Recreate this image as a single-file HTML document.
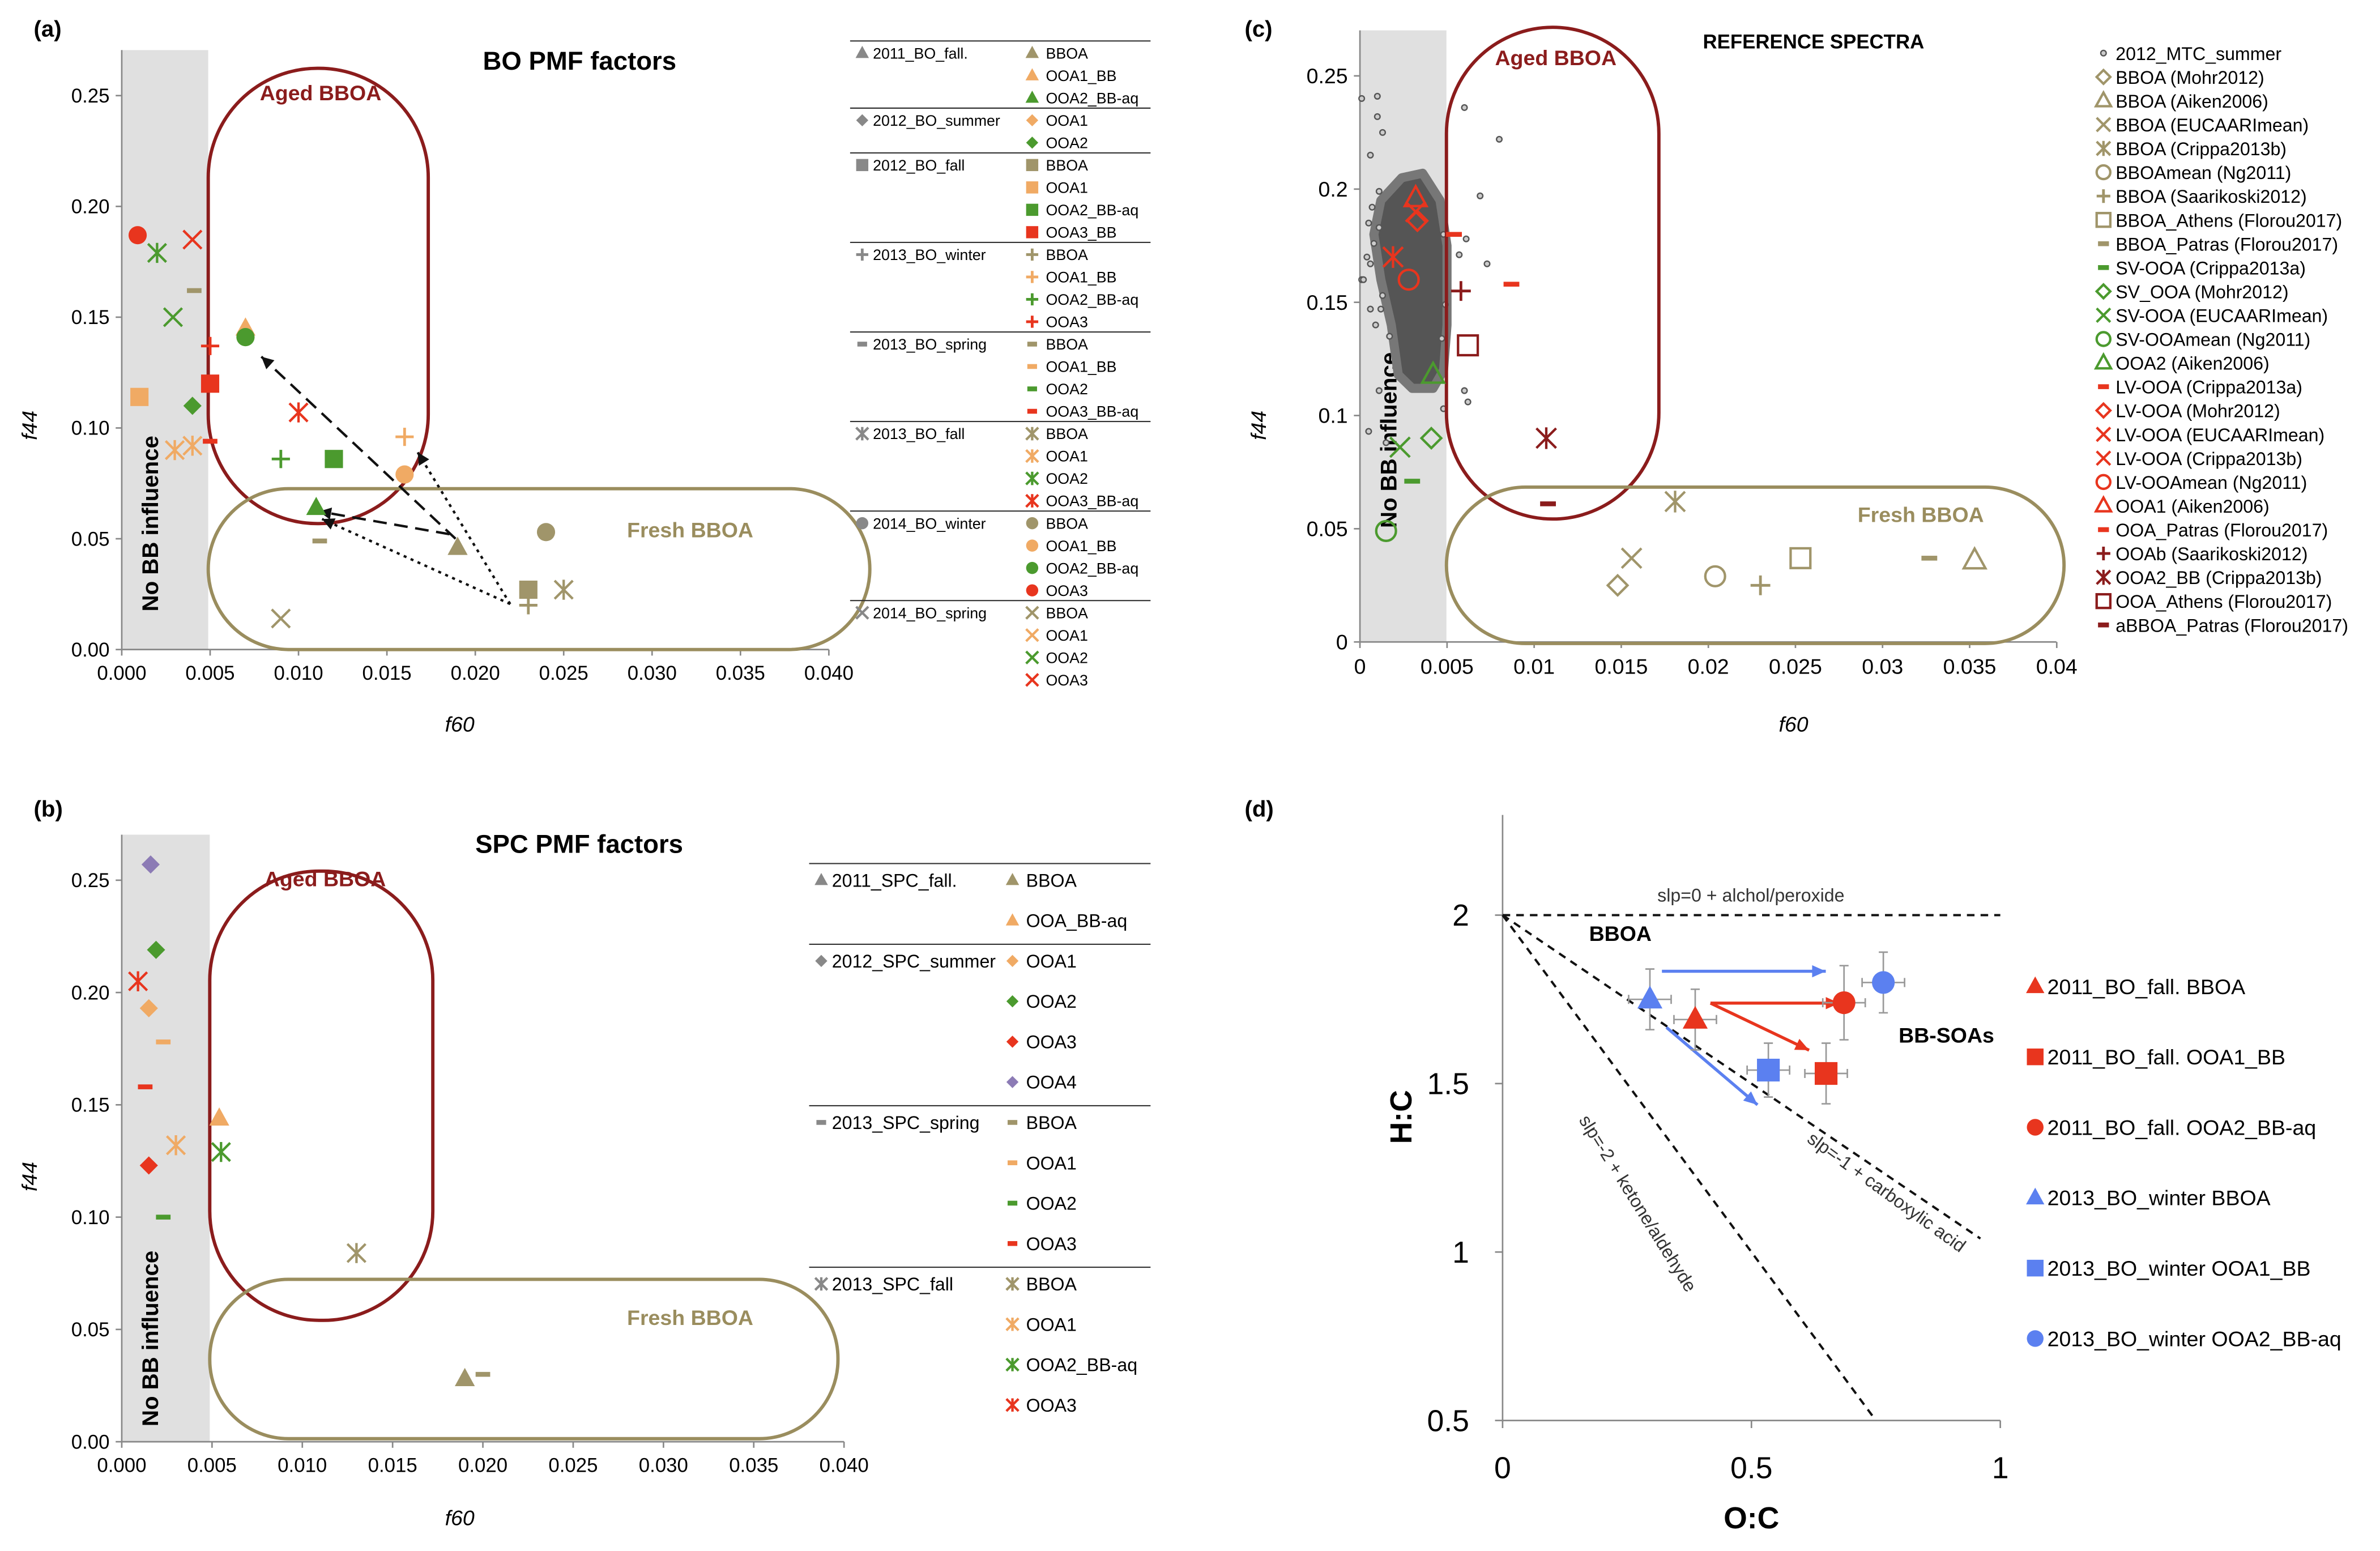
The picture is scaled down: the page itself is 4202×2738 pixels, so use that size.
<!DOCTYPE html>
<html><head><meta charset="utf-8"><style>
html,body{margin:0;padding:0;background:#fff;}
svg{display:block;font-family:"Liberation Sans",sans-serif;}
</style></head><body>
<svg id="fig" width="4202" height="2738" viewBox="0 0 1568 1022" xmlns="http://www.w3.org/2000/svg"></svg>
<script>
// ---------- DATA ----------
const OL="#a0956a",OR="#f0aa64",GR="#4b9a2e",RD="#e8351e",DR="#8b1c1c",PU="#8c7bb5",BL="#5b80f0",GY="#888";
// panel a: f60, f44, marker, color
const aX=[0.0009,0.002,0.004,0.0041,0.0029,0.001,0.004,0.005,0.005,0.007,0.007,0.003,0.004,0.005,0.010,0.009,0.012,0.016,0.016,0.011,0.0112,0.019,0.024,0.023,0.023,0.025,0.009];
const aY=[0.187,0.179,0.185,0.162,0.150,0.114,0.110,0.120,0.137,0.145,0.141,0.090,0.092,0.094,0.107,0.086,0.086,0.096,0.079,0.064,0.049,0.046,0.053,0.027,0.020,0.027,0.014];
const aM=["circ","ast","x","dash","x","sq","dia","sq","plus","tri","circ","ast","ast","dash","ast","plus","sq","plus","circ","tri","dash","tri","circ","sq","plus","ast","x"];
const aC=[RD,GR,RD,OL,GR,OR,GR,RD,RD,OR,GR,OR,OR,RD,RD,GR,GR,OR,OR,GR,OL,OL,OL,OL,OL,OL,OL];
// panel b
const bX=[0.0016,0.0019,0.0009,0.0015,0.0023,0.0013,0.0054,0.003,0.0055,0.0015,0.0023,0.013,0.019,0.020];
const bY=[0.257,0.219,0.205,0.193,0.178,0.158,0.144,0.132,0.129,0.123,0.100,0.084,0.028,0.030];
const bM=["dia","dia","ast","dia","dash","dash","tri","ast","ast","dia","dash","ast","tri","dash"];
const bC=[PU,GR,RD,OR,OR,RD,OR,OR,GR,RD,GR,OL,OL,OL];
// panel c reference spectra
const cX=[0.0032,0.0032,0.0033,0.0028,0.0019,0.0054,0.0087,0.0058,0.0062,0.0042,0.0041,0.0023,0.003,0.0015,0.0107,0.0108,0.0181,0.0156,0.0148,0.0204,0.023,0.0253,0.0327,0.0353];
const cY=[0.196,0.190,0.186,0.160,0.170,0.180,0.158,0.155,0.131,0.118,0.090,0.086,0.071,0.049,0.090,0.061,0.062,0.037,0.025,0.029,0.025,0.037,0.037,0.036];
const cM=["otri","x","odia","ocirc","ast","dash","dash","plus","osq","otri","odia","x","dash","ocirc","ast","dash","ast","x","odia","ocirc","plus","osq","dash","otri"];
const cC=[RD,RD,RD,RD,RD,RD,RD,DR,DR,GR,GR,GR,GR,GR,DR,DR,OL,OL,OL,OL,OL,OL,OL,OL];
// 2012_MTC_summer cloud outline (f60,f44) and sparse points
const cloudX=[0.0024,0.0036,0.0046,0.0050,0.0050,0.0048,0.0042,0.0030,0.0022,0.0018,0.0012,0.0008,0.0012];
const cloudY=[0.205,0.207,0.195,0.175,0.140,0.120,0.112,0.112,0.118,0.140,0.160,0.180,0.195];
const sX=[0.0001,0.001,0.001,0.0013,0.0006,0.0011,0.0007,0.0005,0.0011,0.0008,0.0004,0.0001,0.0002,0.0009,0.0017,0.0013,0.0012,0.006,0.008,0.0069,0.0073,0.0057,0.0061,0.0048,0.006,0.0062,0.0048,0.0047,0.0011,0.0006,0.0049,0.0005,0.0015,0.0006];
const sY=[0.240,0.241,0.232,0.225,0.215,0.199,0.192,0.185,0.183,0.176,0.170,0.160,0.160,0.140,0.135,0.153,0.147,0.236,0.222,0.197,0.167,0.171,0.178,0.180,0.111,0.106,0.103,0.134,0.111,0.147,0.149,0.093,0.088,0.167];
// panel d: O:C, H:C
const dX=[0.296,0.387,0.686,0.765,0.534,0.650];
const dY=[1.75,1.69,1.74,1.80,1.54,1.53];
const dM=["tri","tri","circ","circ","sq","sq"];
const dC=[BL,RD,RD,BL,BL,RD];
const dErr=[0.09,0.09,0.11,0.09,0.08,0.09];
// ticks
const abXt=["0.000","0.005","0.010","0.015","0.020","0.025","0.030","0.035","0.040"];
const abYt=["0.00","0.05","0.10","0.15","0.20","0.25"];
const cXt=["0","0.005","0.01","0.015","0.02","0.025","0.03","0.035","0.04"];
const cYt=["0","0.05","0.1","0.15","0.2","0.25"];
const dXt=["0","0.5","1"];
const dYt=["0.5","1","1.5","2"];
// legends
const legA=[["2011_BO_fall.","tri",GY,[["BBOA","tri",OL],["OOA1_BB","tri",OR],["OOA2_BB-aq","tri",GR]]],
["2012_BO_summer","dia",GY,[["OOA1","dia",OR],["OOA2","dia",GR]]],
["2012_BO_fall","sq",GY,[["BBOA","sq",OL],["OOA1","sq",OR],["OOA2_BB-aq","sq",GR],["OOA3_BB","sq",RD]]],
["2013_BO_winter","plus",GY,[["BBOA","plus",OL],["OOA1_BB","plus",OR],["OOA2_BB-aq","plus",GR],["OOA3","plus",RD]]],
["2013_BO_spring","dash",GY,[["BBOA","dash",OL],["OOA1_BB","dash",OR],["OOA2","dash",GR],["OOA3_BB-aq","dash",RD]]],
["2013_BO_fall","ast",GY,[["BBOA","ast",OL],["OOA1","ast",OR],["OOA2","ast",GR],["OOA3_BB-aq","ast",RD]]],
["2014_BO_winter","circ",GY,[["BBOA","circ",OL],["OOA1_BB","circ",OR],["OOA2_BB-aq","circ",GR],["OOA3","circ",RD]]],
["2014_BO_spring","x",GY,[["BBOA","x",OL],["OOA1","x",OR],["OOA2","x",GR],["OOA3","x",RD]]]];
const legB=[["2011_SPC_fall.","tri",GY,[["BBOA","tri",OL],["OOA_BB-aq","tri",OR]]],
["2012_SPC_summer","dia",GY,[["OOA1","dia",OR],["OOA2","dia",GR],["OOA3","dia",RD],["OOA4","dia",PU]]],
["2013_SPC_spring","dash",GY,[["BBOA","dash",OL],["OOA1","dash",OR],["OOA2","dash",GR],["OOA3","dash",RD]]],
["2013_SPC_fall","ast",GY,[["BBOA","ast",OL],["OOA1","ast",OR],["OOA2_BB-aq","ast",GR],["OOA3","ast",RD]]]];
const legC=[["2012_MTC_summer","dot",GY],["BBOA (Mohr2012)","odia",OL],["BBOA (Aiken2006)","otri",OL],["BBOA (EUCAARImean)","x",OL],["BBOA  (Crippa2013b)","ast",OL],["BBOAmean  (Ng2011)","ocirc",OL],["BBOA (Saarikoski2012)","plus",OL],["BBOA_Athens (Florou2017)","osq",OL],["BBOA_Patras (Florou2017)","dash",OL],["SV-OOA (Crippa2013a)","dash",GR],["SV_OOA (Mohr2012)","odia",GR],["SV-OOA (EUCAARImean)","x",GR],["SV-OOAmean (Ng2011)","ocirc",GR],["OOA2 (Aiken2006)","otri",GR],["LV-OOA (Crippa2013a)","dash",RD],["LV-OOA (Mohr2012)","odia",RD],["LV-OOA (EUCAARImean)","x",RD],["LV-OOA (Crippa2013b)","x",RD],["LV-OOAmean (Ng2011)","ocirc",RD],["OOA1 (Aiken2006)","otri",RD],["OOA_Patras (Florou2017)","dash",RD],["OOAb (Saarikoski2012)","plus",DR],["OOA2_BB (Crippa2013b)","ast",DR],["OOA_Athens (Florou2017)","osq",DR],["aBBOA_Patras (Florou2017)","dash",DR]];
const legD=[["2011_BO_fall.  BBOA","tri",RD],["2011_BO_fall. OOA1_BB","sq",RD],["2011_BO_fall. OOA2_BB-aq","circ",RD],["2013_BO_winter  BBOA","tri",BL],["2013_BO_winter OOA1_BB","sq",BL],["2013_BO_winter OOA2_BB-aq","circ",BL]];

// ---------- HELPERS ----------
const NS="http://www.w3.org/2000/svg",svg=document.getElementById('fig');
function E(tag,at,p){const e=document.createElementNS(NS,tag);for(const k in at)e.setAttribute(k,at[k]);(p||svg).appendChild(e);return e;}
function T(txt,x,y,at,p){const e=E('text',Object.assign({x:x,y:y,'font-size':13},at||{}),p);e.textContent=txt;return e;}
function marker(p,type,x,y,c,s){
  s=s||6;const g=E('g',{},p);
  
  
  if(type=="circ")E('circle',{cx:x,cy:y,r:s,fill:c},g);
  else if(type=="ocirc")E('circle',{cx:x,cy:y,r:s,fill:'none',stroke:c,'stroke-width':1.6},g);
  else if(type=="sq")E('rect',{x:x-s,y:y-s,width:2*s,height:2*s,fill:c},g);
  else if(type=="osq")E('rect',{x:x-s,y:y-s,width:2*s,height:2*s,fill:'none',stroke:c,'stroke-width':1.6},g);
  else if(type=="tri")E('polygon',{points:`${x},${y-s*1.2} ${x-s*1.1},${y+s*0.8} ${x+s*1.1},${y+s*0.8}`,fill:c},g);
  else if(type=="otri")E('polygon',{points:`${x},${y-s*1.2} ${x-s*1.1},${y+s*0.8} ${x+s*1.1},${y+s*0.8}`,fill:'none',stroke:c,'stroke-width':1.6},g);
  else if(type=="dia")E('polygon',{points:`${x},${y-s} ${x+s},${y} ${x},${y+s} ${x-s},${y}`,fill:c},g);
  else if(type=="odia")E('polygon',{points:`${x},${y-s} ${x+s},${y} ${x},${y+s} ${x-s},${y}`,fill:'none',stroke:c,'stroke-width':1.6},g);
  else if(type=="x")E('path',{d:`M${x-s} ${y-s}L${x+s} ${y+s}M${x-s} ${y+s}L${x+s} ${y-s}`,stroke:c,'stroke-width':1.6},g);
  else if(type=="plus")E('path',{d:`M${x-s} ${y}L${x+s} ${y}M${x} ${y-s}L${x} ${y+s}`,stroke:c,'stroke-width':1.8},g);
  else if(type=="ast")E('path',{d:`M${x-s} ${y-s}L${x+s} ${y+s}M${x-s} ${y+s}L${x+s} ${y-s}M${x} ${y-s*1.1}L${x} ${y+s*1.1}`,stroke:c,'stroke-width':1.6},g);
  else if(type=="dash")E('rect',{x:x-s*0.8,y:y-1.6,width:s*1.6,height:3.2,fill:c},g);
  else if(type=="dot")E('circle',{cx:x,cy:y,r:1.8,fill:'#ccc',stroke:'#555','stroke-width':0.9},g);
  return g;
}
function panel(name){const g=E('g',{});return g;}
function axes(g,x0,x1,y0,y1,xt,yt,xlab,ylab,xs,ys,fs){
  E('line',{x1:x0,y1:y0,x2:x0,y2:y1,stroke:'#888','stroke-width':1},g);
  E('line',{x1:x0,y1:y0,x2:x1,y2:y0,stroke:'#888','stroke-width':1},g);
  xt.forEach((t,i)=>{const x=xs(i);E('line',{x1:x,y1:y0,x2:x,y2:y0+4,stroke:'#888'},g);
    const l=T(t,x,y0+fs+7,{'text-anchor':'middle','font-size':fs},g);
    
    });
  yt.forEach((t,i)=>{const y=ys(i);E('line',{x1:x0-4,y1:y,x2:x0,y2:y,stroke:'#888'},g);
    const l=T(t,x0-8,y+fs*0.35,{'text-anchor':'end','font-size':fs},g);
    
    });
}
function band(g,x0,x1,ytop,ybot,ty){
  const r=E('rect',{x:x0,y:ytop,width:x1-x0,height:ybot-ytop,fill:'#e0e0e0'},g);
  
  
  T('No BB influence',0,0,{'font-weight':'bold','font-size':15,'text-anchor':'middle',transform:`translate(${x0+24},${ty}) rotate(-90)`},g);
}
function region(g,x,y,w,h,rx,col,label,lx,ly,name){
  const r=E('rect',{x:x,y:y,width:w,height:h,rx:rx,ry:rx,fill:'none',stroke:col,'stroke-width':2.2},g);
  
  
  T(label,lx,ly,{'font-weight':'bold','font-size':14,fill:col},g);
}
// y0 = centre of first entry; lineOff = gap from line to first entry centre
function tableLegend(g,data,x0,x1,y0,step,ix,fs,lineOff,name){
  const lg=E('g',{},g);
  
  
  let y=y0;
  data.forEach(grp=>{
    E('line',{x1:x0,y1:y-lineOff,x2:x1,y2:y-lineOff,stroke:'#333','stroke-width':0.8},lg);
    marker(lg,grp[1],x0+8,y,grp[2],4);
    T(grp[0],x0+15,y+fs*0.36,{'font-size':fs},lg);
    grp[3].forEach((e,i)=>{const yy=y+i*step;
      marker(lg,e[1],ix,yy,e[2],4);
      const t=T(e[0],ix+9,yy+fs*0.36,{'font-size':fs},lg);
      
      });
    y+=grp[3].length*step;
  });
}

// ---------- PANEL A ----------
(function(){
const g=panel('panel-a');
const X=v=>80+v/0.04*466, Y=v=>428-v/0.25*365;
band(g,80,137,33,428,345);
axes(g,80,546,428,33,abXt,abYt,'','',i=>80+i*58.25,i=>428-i*73,13);
region(g,137,45,145,300,72,DR,'Aged BBOA',171,66,'aged-bboa-region');
region(g,137,322,436,106,53,'#9a8d5e','Fresh BBOA',413,354,'fresh-bboa-region');
T('(a)',22,24,{'font-weight':'bold','font-size':15},g);
T('BO PMF  factors',318,46,{'font-weight':'bold','font-size':17},g);
T('f60',293,482,{'font-style':'italic','font-size':14},g);
T('f44',0,0,{'font-style':'italic','font-size':14,transform:'translate(24,290) rotate(-90)'},g);
const ar=E('g',{stroke:'#111','stroke-width':1.6,fill:'none'},g);


E('path',{d:'M300 355 L172 235','stroke-dasharray':'9 5'},ar);
E('path',{d:'M296 352 L210 337','stroke-dasharray':'9 5'},ar);
E('path',{d:'M336 398 L275 298','stroke-dasharray':'2 3'},ar);
E('path',{d:'M336 398 L212 342','stroke-dasharray':'2 3'},ar);
[[172,235,222],[210,337,190],[275,298,238],[212,342,204]].forEach(a=>{E('polygon',{points:'0,0 -8,-4 -8,4',fill:'#111',stroke:'none',transform:`translate(${a[0]},${a[1]}) rotate(${a[2]})`},ar);});
aX.forEach((v,i)=>{const m=marker(g,aM[i],X(v),Y(aY[i]),aC[i],6);
  });
tableLegend(g,legA,560,758,35,14.75,680,10,8,'legend-a');
})();

// ---------- PANEL B ----------
(function(){
const g=panel('panel-b');
const X=v=>80+v/0.04*476, Y=v=>950-v/0.25*370;
band(g,80,138,550,950,882);
axes(g,80,556,950,550,abXt,abYt,'','',i=>80+i*59.5,i=>950-i*74,13);
region(g,138,574,147,296,72,DR,'Aged BBOA',174,584,'aged-bboa-region');
region(g,138,843,414,105,52,'#9a8d5e','Fresh BBOA',413,873,'fresh-bboa-region');
T('(b)',22,538,{'font-weight':'bold','font-size':15},g);
T('SPC PMF  factors',313,562,{'font-weight':'bold','font-size':17},g);
T('f60',293,1005,{'font-style':'italic','font-size':14},g);
T('f44',0,0,{'font-style':'italic','font-size':14,transform:'translate(24,785) rotate(-90)'},g);
bX.forEach((v,i)=>{const m=marker(g,bM[i],X(v),Y(bY[i]),bC[i],6);
  });
tableLegend(g,legB,533,758,580,26.6,667,12,11,'legend-b');
})();

// ---------- PANEL C ----------
(function(){
const g=panel('panel-c');
const X=v=>896+v/0.04*459, Y=v=>423-v/0.25*373;
band(g,896,953,20,423,290);
axes(g,896,1355,423,20,cXt,cYt,'','',i=>896+i*57.4,i=>423-i*74.6,14);
const cl=E('polygon',{points:cloudX.map((v,i)=>X(v)+','+Y(cloudY[i])).join(' '),fill:'#555',stroke:'#777','stroke-width':6,'stroke-linejoin':'round'},g);


sX.forEach((v,i)=>{const m=marker(g,'dot',X(v),Y(sY[i]),GY);
  });
region(g,953,18,140,324,70,DR,'Aged BBOA',985,43,'aged-bboa-region');
region(g,953,321,407,103,52,'#9a8d5e','Fresh BBOA',1224,344,'fresh-bboa-region');
T('(c)',820,24,{'font-weight':'bold','font-size':15},g);
T('REFERENCE SPECTRA',1122,32,{'font-weight':'bold','font-size':13},g);
T('f60',1172,482,{'font-style':'italic','font-size':14},g);
T('f44',0,0,{'font-style':'italic','font-size':14,transform:'translate(834,290) rotate(-90)'},g);
cX.forEach((v,i)=>{const m=marker(g,cM[i],X(v),Y(cY[i]),cC[i],6.5);
  });
const lg=E('g',{},g);


legC.forEach((e,i)=>{const y=35+i*15.7;marker(lg,e[1],1386,y,e[2],4.5);
  const t=T(e[0],1394,y+4.5,{'font-size':12},lg);
  
  });
})();

// ---------- PANEL D ----------
(function(){
const g=panel('panel-d');
const X=v=>990+v*328, Y=v=>936-(v-0.5)*222;
E('line',{x1:990,y1:537,x2:990,y2:936,stroke:'#888'},g);
E('line',{x1:990,y1:936,x2:1318,y2:936,stroke:'#888'},g);
dXt.forEach((t,i)=>{const v=parseFloat(t);E('line',{x1:X(v),y1:936,x2:X(v),y2:941,stroke:'#888'},g);
  const l=T(t,X(v),974,{'text-anchor':'middle','font-size':20},g);
  
  });
dYt.forEach((t,i)=>{const v=parseFloat(t);E('line',{x1:985,y1:Y(v),x2:990,y2:Y(v),stroke:'#888'},g);
  const l=T(t,968,Y(v)+7,{'text-anchor':'end','font-size':20},g);
  
  });
T('(d)',820,538,{'font-weight':'bold','font-size':15},g);
T('O:C',1154,1007,{'text-anchor':'middle','font-weight':'bold','font-size':20},g);
T('H:C',0,0,{'text-anchor':'middle','font-weight':'bold','font-size':20,transform:'translate(930,736) rotate(-90)'},g);
const ln=E('g',{stroke:'#111','stroke-width':1.5,'stroke-dasharray':'5 4',fill:'none'},g);


E('line',{x1:X(0),y1:Y(2),x2:X(1),y2:Y(2)},ln);
E('line',{x1:X(0),y1:Y(2),x2:X(0.96),y2:Y(1.04)},ln);
E('line',{x1:X(0),y1:Y(2),x2:X(0.75),y2:Y(0.5)},ln);
T('slp=0 + alchol/peroxide',1092,594,{'font-size':12,fill:'#333'},g);
T('slp=-1 + carboxylic acid',0,0,{'font-size':12,fill:'#333',transform:`translate(1190,752) rotate(36)`},g);
T('slp=-2 + ketone/aldehyde',0,0,{'font-size':12,fill:'#333',transform:`translate(1040,738) rotate(58)`},g);
T('BBOA',1047,620,{'font-weight':'bold','font-size':14},g);
T('BB-SOAs',1251,687,{'font-weight':'bold','font-size':14},g);
const ar=E('g',{'stroke-width':2},g);


[[1095,640,1203,640,BL],[1127,661,1212,661,RD],[1127,661,1192,692,RD],[1098,677,1158,728,BL]].forEach(a=>{
  E('line',{x1:a[0],y1:a[1],x2:a[2],y2:a[3],stroke:a[4]},ar);
  const ang=Math.atan2(a[3]-a[1],a[2]-a[0])*180/Math.PI;
  E('polygon',{points:'0,0 -9,-4 -9,4',fill:a[4],transform:`translate(${a[2]},${a[3]}) rotate(${ang})`},ar);});
dX.forEach((v,i)=>{const x=X(v),y=Y(dY[i]),e=dErr[i]*222;
  E('path',{d:`M${x} ${y-e}L${x} ${y+e}M${x-3} ${y-e}L${x+3} ${y-e}M${x-3} ${y+e}L${x+3} ${y+e}M${x-14} ${y}L${x+14} ${y}M${x-14} ${y-3}L${x-14} ${y+3}M${x+14} ${y-3}L${x+14} ${y+3}`,stroke:'#999','stroke-width':1},g);
  const m=marker(g,dM[i],x,y,dC[i],7.5);
  });
const lg=E('g',{},g);


legD.forEach((e,i)=>{const y=650+i*46.4;marker(lg,e[1],1341,y,e[2],5.5);
  const t=T(e[0],1349,y+5,{'font-size':14},lg);
  
  });
})();
</script>
</body></html>
